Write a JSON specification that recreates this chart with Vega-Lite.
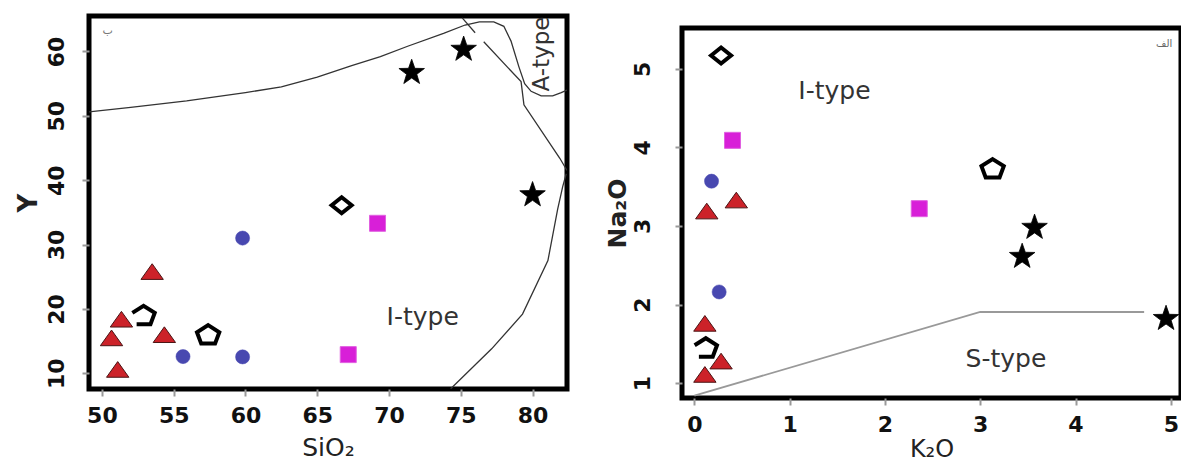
{
  "$schema": "https://vega.github.io/schema/vega-lite/v6.json",
  "background": "white",
  "padding": {"left": 12, "top": 13, "right": 0, "bottom": 0},
  "spacing": 32,
  "config": {
    "view": {"stroke": "black", "strokeWidth": 5},
    "axis": {"domain": false, "grid": false, "tickColor": "#999", "tickWidth": 2, "tickSize": 7, "labelFont": "DejaVu Sans", "labelFontWeight": "bold", "labelFontSize": 22, "labelColor": "#111", "titleFont": "DejaVu Sans", "titleColor": "#222", "titleFontSize": 25},
    "axisY": {"labelAngle": -90, "labelAlign": "center", "labelBaseline": "bottom", "titleFontWeight": "bold"},
    "axisX": {"titleFontWeight": "normal"}
  },
  "datasets": {
    "ptsL": [
      {"x": 53.5, "y": 25.8, "s": "tri"}, {"x": 51.36, "y": 18.4, "s": "tri"}, {"x": 50.67, "y": 15.5, "s": "tri"}, {"x": 51.1, "y": 10.6, "s": "tri"}, {"x": 54.35, "y": 16.0, "s": "tri"},
      {"x": 59.8, "y": 31.0, "s": "circ"}, {"x": 55.65, "y": 12.6, "s": "circ"}, {"x": 59.8, "y": 12.55, "s": "circ"},
      {"x": 52.9, "y": 19.0, "s": "pento"}, {"x": 57.4, "y": 16.0, "s": "pent"},
      {"x": 66.7, "y": 36.1, "s": "diam"},
      {"x": 69.2, "y": 33.3, "s": "sq"}, {"x": 67.16, "y": 12.9, "s": "sq"},
      {"x": 71.58, "y": 56.7, "s": "star"}, {"x": 75.2, "y": 60.3, "s": "star"}, {"x": 80.0, "y": 37.7, "s": "star"}
    ],
    "linesL": [
      {"seg": "a", "o": 1, "x": 49.1, "y": 50.6}, {"seg": "a", "o": 2, "x": 52, "y": 51.3}, {"seg": "a", "o": 3, "x": 55.9, "y": 52.3}, {"seg": "a", "o": 4, "x": 60, "y": 53.6}, {"seg": "a", "o": 5, "x": 62.5, "y": 54.5}, {"seg": "a", "o": 6, "x": 65, "y": 56.0}, {"seg": "a", "o": 7, "x": 67.4, "y": 57.8}, {"seg": "a", "o": 8, "x": 69.4, "y": 59.2}, {"seg": "a", "o": 9, "x": 71.3, "y": 60.8}, {"seg": "a", "o": 10, "x": 73.8, "y": 62.8}, {"seg": "a", "o": 11, "x": 75.3, "y": 64.1}, {"seg": "a", "o": 12, "x": 76.3, "y": 64.6}, {"seg": "a", "o": 13, "x": 77.3, "y": 64.6}, {"seg": "a", "o": 14, "x": 78.0, "y": 63.9}, {"seg": "a", "o": 15, "x": 78.5, "y": 61.6}, {"seg": "a", "o": 16, "x": 79.05, "y": 57.6}, {"seg": "a", "o": 17, "x": 79.45, "y": 55.0}, {"seg": "a", "o": 18, "x": 79.9, "y": 53.8}, {"seg": "a", "o": 19, "x": 80.6, "y": 53.1}, {"seg": "a", "o": 20, "x": 81.4, "y": 53.1}, {"seg": "a", "o": 21, "x": 82.0, "y": 53.6}, {"seg": "a", "o": 22, "x": 82.4, "y": 54.0},
      {"seg": "b", "o": 1, "x": 75.1, "y": 65.2}, {"seg": "b", "o": 2, "x": 76.0, "y": 62.9},
      {"seg": "c", "o": 1, "x": 76.6, "y": 61.5}, {"seg": "c", "o": 2, "x": 79.2, "y": 55.3}, {"seg": "c", "o": 3, "x": 79.4, "y": 51.7}, {"seg": "c", "o": 4, "x": 81.9, "y": 43.4}, {"seg": "c", "o": 5, "x": 82.4, "y": 41.5},
      {"seg": "d", "o": 1, "x": 82.35, "y": 41.0}, {"seg": "d", "o": 2, "x": 82.1, "y": 39.0}, {"seg": "d", "o": 3, "x": 81.75, "y": 35.5}, {"seg": "d", "o": 4, "x": 81.07, "y": 27.5}, {"seg": "d", "o": 5, "x": 79.3, "y": 19.2}, {"seg": "d", "o": 6, "x": 77.15, "y": 13.8}, {"seg": "d", "o": 7, "x": 74.3, "y": 7.6}
    ],
    "txtL": [
      {"x": 72.35, "y": 18.8, "t": "I-type", "k": "reg"},
      {"x": 80.69, "y": 59.6, "t": "A-type", "k": "rot"},
      {"x": 50.4, "y": 63.1, "t": "ب", "k": "mark"}
    ],
    "ptsR": [
      {"x": 0.28, "y": 5.17, "s": "diam"},
      {"x": 0.40, "y": 4.09, "s": "sq"}, {"x": 2.36, "y": 3.22, "s": "sq"},
      {"x": 0.18, "y": 3.57, "s": "circ"}, {"x": 0.26, "y": 2.16, "s": "circ"},
      {"x": 0.13, "y": 3.19, "s": "tri"}, {"x": 0.44, "y": 3.33, "s": "tri"}, {"x": 0.11, "y": 1.76, "s": "tri"}, {"x": 0.28, "y": 1.28, "s": "tri"}, {"x": 0.11, "y": 1.11, "s": "tri"},
      {"x": 3.13, "y": 3.73, "s": "pent"}, {"x": 0.12, "y": 1.45, "s": "pento"},
      {"x": 3.57, "y": 2.98, "s": "star"}, {"x": 3.44, "y": 2.61, "s": "star"}, {"x": 4.95, "y": 1.82, "s": "star"}
    ],
    "linesR": [
      {"seg": "s", "o": 1, "x": 0.0, "y": 0.84}, {"seg": "s", "o": 2, "x": 3.0, "y": 1.905}, {"seg": "s", "o": 3, "x": 4.72, "y": 1.905}
    ],
    "txtR": [
      {"x": 1.47, "y": 4.72, "t": "I-type", "k": "reg"},
      {"x": 3.27, "y": 1.31, "t": "S-type", "k": "reg"},
      {"x": 4.93, "y": 5.31, "t": "الف", "k": "mark"}
    ],
    "blank": [{"x": 0}]
  },
  "hconcat": [
    {
      "width": 478,
      "height": 373,
      "encoding": {
        "x": {"field": "x", "type": "quantitative", "scale": {"domain": [49.1, 82.4], "nice": false, "zero": false}, "axis": {"values": [50, 55, 60, 65, 70, 75, 80], "title": "SiO₂", "labelPadding": 9, "titlePadding": 9}},
        "y": {"field": "y", "type": "quantitative", "scale": {"domain": [7.56, 65.5], "nice": false, "zero": false}, "axis": {"values": [10, 20, 30, 40, 50, 60], "title": "Y", "labelPadding": 14, "titlePadding": 4, "titleFontSize": 26}}
      },
      "layer": [
        {"data": {"name": "linesL"}, "mark": {"type": "line", "clip": true, "color": "#333", "strokeWidth": 1.3}, "encoding": {"detail": {"field": "seg"}, "order": {"field": "o", "type": "quantitative"}}},
        {"data": {"name": "ptsL"}, "transform": [{"filter": "datum.s === 'tri'"}], "mark": {"type": "point", "shape": "M0,-0.7L1,0.7L-1,0.7Z", "filled": true, "fill": "#cc2229", "stroke": "#4a1515", "strokeWidth": 1, "size": 500, "opacity": 1}},
        {"data": {"name": "ptsL"}, "transform": [{"filter": "datum.s === 'circ'"}], "mark": {"type": "point", "shape": "circle", "filled": true, "fill": "#4848b0", "stroke": "#4848b0", "strokeWidth": 0.5, "size": 200, "opacity": 1}},
        {"data": {"name": "ptsL"}, "transform": [{"filter": "datum.s === 'sq'"}], "mark": {"type": "point", "shape": "square", "filled": true, "fill": "#d81fd8", "stroke": "#e060e0", "strokeWidth": 1, "size": 256, "opacity": 1}},
        {"data": {"name": "ptsL"}, "transform": [{"filter": "datum.s === 'pent'"}], "mark": {"type": "point", "shape": "M0,-0.85L1,-0.22L0.62,0.8L-0.62,0.8L-1,-0.22Z", "filled": false, "fill": "white", "stroke": "black", "strokeWidth": 4, "size": 500, "opacity": 1}},
        {"data": {"name": "ptsL"}, "transform": [{"filter": "datum.s === 'pento'"}], "mark": {"type": "point", "shape": "M-1,-0.22L0,-0.85L1,-0.22L0.62,0.8L-0.62,0.8", "filled": false, "fill": "transparent", "stroke": "black", "strokeWidth": 4, "size": 500, "opacity": 1}},
        {"data": {"name": "ptsL"}, "transform": [{"filter": "datum.s === 'diam'"}], "mark": {"type": "point", "shape": "M-1,0L0,-0.8L1,0L0,0.8Z", "filled": false, "fill": "white", "stroke": "black", "strokeWidth": 4, "size": 400, "opacity": 1}},
        {"data": {"name": "ptsL"}, "transform": [{"filter": "datum.s === 'star'"}], "mark": {"type": "point", "shape": "M0,-1L0.235,-0.324L0.951,-0.309L0.38,0.124L0.588,0.809L0,0.4L-0.588,0.809L-0.38,0.124L-0.951,-0.309L-0.235,-0.324Z", "filled": true, "fill": "black", "stroke": "black", "strokeWidth": 0.8, "size": 720, "opacity": 1}},
        {"data": {"name": "txtL"}, "transform": [{"filter": "datum.k === 'reg'"}], "mark": {"type": "text", "font": "DejaVu Sans", "fontSize": 25, "color": "#333"}, "encoding": {"text": {"field": "t"}}},
        {"data": {"name": "txtL"}, "transform": [{"filter": "datum.k === 'rot'"}], "mark": {"type": "text", "font": "DejaVu Sans", "fontSize": 23, "color": "#333", "angle": 270}, "encoding": {"text": {"field": "t"}}},
        {"data": {"name": "txtL"}, "transform": [{"filter": "datum.k === 'mark'"}], "mark": {"type": "text", "font": "DejaVu Sans", "fontSize": 11, "color": "#777"}, "encoding": {"text": {"field": "t"}}}
      ]
    },
    {
      "spacing": 5,
      "vconcat": [
        {
          "width": 499,
          "height": 1,
          "view": {"stroke": null},
          "data": {"name": "blank"},
          "mark": {"type": "point", "opacity": 0},
          "encoding": {}
        },
        {
          "width": 499,
          "height": 370,
          "encoding": {
            "x": {"field": "x", "type": "quantitative", "scale": {"domain": [-0.13, 5.107], "nice": false, "zero": false}, "axis": {"values": [0, 1, 2, 3, 4, 5], "title": "K₂O", "labelPadding": 9, "titlePadding": 2, "titleFontSize": 24}},
            "y": {"field": "y", "type": "quantitative", "scale": {"domain": [0.81, 5.52], "nice": false, "zero": false}, "axis": {"values": [1, 2, 3, 4, 5], "title": "Na₂O", "labelPadding": 21, "titlePadding": 1}}
          },
          "layer": [
            {"data": {"name": "linesR"}, "mark": {"type": "line", "clip": true, "color": "#999", "strokeWidth": 1.8}, "encoding": {"detail": {"field": "seg"}, "order": {"field": "o", "type": "quantitative"}}},
            {"data": {"name": "ptsR"}, "transform": [{"filter": "datum.s === 'tri'"}], "mark": {"type": "point", "shape": "M0,-0.7L1,0.7L-1,0.7Z", "filled": true, "fill": "#cc2229", "stroke": "#4a1515", "strokeWidth": 1, "size": 500, "opacity": 1}},
            {"data": {"name": "ptsR"}, "transform": [{"filter": "datum.s === 'circ'"}], "mark": {"type": "point", "shape": "circle", "filled": true, "fill": "#4848b0", "stroke": "#4848b0", "strokeWidth": 0.5, "size": 200, "opacity": 1}},
            {"data": {"name": "ptsR"}, "transform": [{"filter": "datum.s === 'sq'"}], "mark": {"type": "point", "shape": "square", "filled": true, "fill": "#d81fd8", "stroke": "#e060e0", "strokeWidth": 1, "size": 256, "opacity": 1}},
            {"data": {"name": "ptsR"}, "transform": [{"filter": "datum.s === 'pent'"}], "mark": {"type": "point", "shape": "M0,-0.85L1,-0.22L0.62,0.8L-0.62,0.8L-1,-0.22Z", "filled": false, "fill": "white", "stroke": "black", "strokeWidth": 4, "size": 500, "opacity": 1}},
            {"data": {"name": "ptsR"}, "transform": [{"filter": "datum.s === 'pento'"}], "mark": {"type": "point", "shape": "M-1,-0.22L0,-0.85L1,-0.22L0.62,0.8L-0.62,0.8", "filled": false, "fill": "transparent", "stroke": "black", "strokeWidth": 4, "size": 500, "opacity": 1}},
            {"data": {"name": "ptsR"}, "transform": [{"filter": "datum.s === 'diam'"}], "mark": {"type": "point", "shape": "M-1,0L0,-0.8L1,0L0,0.8Z", "filled": false, "fill": "white", "stroke": "black", "strokeWidth": 4, "size": 400, "opacity": 1}},
            {"data": {"name": "ptsR"}, "transform": [{"filter": "datum.s === 'star'"}], "mark": {"type": "point", "shape": "M0,-1L0.235,-0.324L0.951,-0.309L0.38,0.124L0.588,0.809L0,0.4L-0.588,0.809L-0.38,0.124L-0.951,-0.309L-0.235,-0.324Z", "filled": true, "fill": "black", "stroke": "black", "strokeWidth": 0.8, "size": 720, "opacity": 1}},
            {"data": {"name": "txtR"}, "transform": [{"filter": "datum.k === 'reg'"}], "mark": {"type": "text", "font": "DejaVu Sans", "fontSize": 25, "color": "#333"}, "encoding": {"text": {"field": "t"}}},
            {"data": {"name": "txtR"}, "transform": [{"filter": "datum.k === 'mark'"}], "mark": {"type": "text", "font": "DejaVu Sans", "fontSize": 10, "color": "#666"}, "encoding": {"text": {"field": "t"}}}
          ]
        }
      ]
    }
  ]
}
